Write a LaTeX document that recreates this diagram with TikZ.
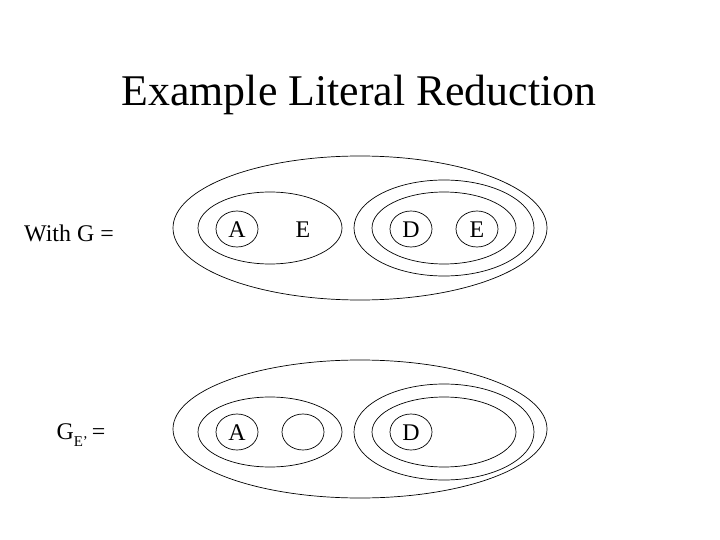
\documentclass[tikz,border=0pt]{standalone}
\usepackage{fontspec}
\setmainfont{Liberation Serif}
\tikzset{
  ring/.style={draw, line width=0.7pt},
  lbl/.style={font=\fontsize{24}{28}\selectfont, inner sep=0pt}
}
\begin{document}
\begin{tikzpicture}[x=1bp, y=-1bp]
  \useasboundingbox (0,0) rectangle (720,540);
  \node[font=\fontsize{44}{50}\selectfont] (title) at (359,95) {Example Literal Reduction};
  % G
  \node[lbl] (withg) at (69,233) {With G =};
  \draw[ring] (360,228) ellipse (187 and 72);
  \draw[ring] (270,228) ellipse (72 and 36);
  \draw[ring] (444,228) ellipse (90 and 48);
  \draw[ring] (444,228) ellipse (72 and 36);
  \foreach \x in {237,411,477}
    \draw[ring] (\x,229) ellipse (21 and 18);
  \node[lbl] (a1) at (237,230) {A};
  \node[lbl] (e1) at (303,230) {E};
  \node[lbl] (d1) at (411,230) {D};
  \node[lbl] (e2) at (477,230) {E};
  % G_E'
  \node[lbl] (ge) at (81,435) {G\raisebox{-0.3em}{\fontsize{15}{15}\selectfont E'}\,=};
  \draw[ring] (360,429) ellipse (187 and 69);
  \draw[ring] (270,432) ellipse (72 and 35);
  \draw[ring] (444,432) ellipse (90 and 48);
  \draw[ring] (444,432) ellipse (72 and 35);
  \foreach \x in {237,303,411}
    \draw[ring] (\x,432) ellipse (21 and 18);
  \node[lbl] (a2) at (237,433) {A};
  \node[lbl] (d2) at (411,433) {D};
\end{tikzpicture}
\end{document}
